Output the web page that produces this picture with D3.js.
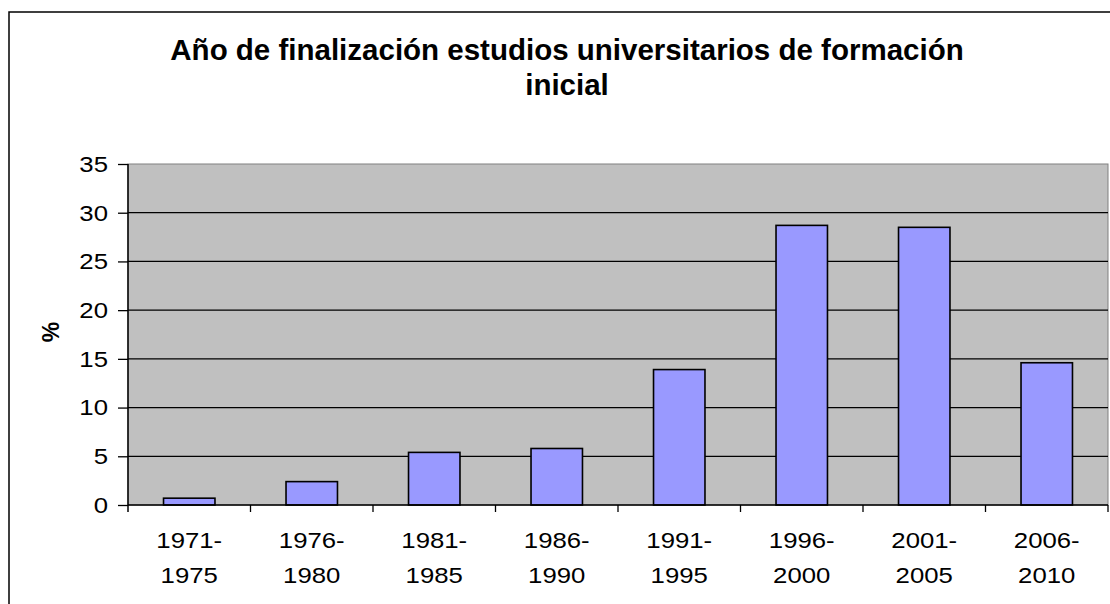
<!DOCTYPE html>
<html>
<head>
<meta charset="utf-8">
<script src="https://cdn.jsdelivr.net/npm/d3@7"></script>
<style>
  body { margin: 0; background: #fff; }
  text { font-family: "Liberation Sans", Arial, sans-serif; fill: #000; }
</style>
</head>
<body>
<div id="viz"></div>
<script>
// data
const periods = ["1971-1975", "1976-1980", "1981-1985", "1986-1990",
  "1991-1995", "1996-2000", "2001-2005", "2006-2010"];
const percents = [0.7, 2.4, 5.4, 5.8, 13.9, 28.7, 28.5, 14.6];
const yTicks = [0, 5, 10, 15, 20, 25, 30, 35];
const titleLines = ["Año de finalización estudios universitarios de formación", "inicial"];

const width = 1110, height = 604;
const plot = { left: 128, right: 1108, top: 164, bottom: 505 };

const svg = d3.select("#viz")
  .append("svg")
  .attr("width", width)
  .attr("height", height);

// chart frame (runs off the right and bottom edge)
svg.append("rect")
  .attr("x", 9)
  .attr("y", 12)
  .attr("width", 1130)
  .attr("height", 640)
  .attr("fill", "#fff")
  .attr("stroke", "#000")
  .attr("stroke-width", 1.5);

const x = d3.scaleBand()
  .domain(periods)
  .range([plot.left, plot.right])
  .paddingInner(0.58)
  .paddingOuter(0.29);
const y = d3.scaleLinear().domain([0, 35]).range([plot.bottom, plot.top]);

// plot area
svg.append("rect")
  .attr("x", plot.left)
  .attr("y", plot.top)
  .attr("width", plot.right - plot.left)
  .attr("height", plot.bottom - plot.top)
  .attr("fill", "#c0c0c0")
  .attr("stroke", "#808080")
  .attr("stroke-width", 1);

// gridlines
svg.append("g")
  .selectAll("line")
  .data(yTicks.filter((d) => d > 0 && d < 35))
  .join("line")
  .attr("x1", plot.left)
  .attr("x2", plot.right)
  .attr("y1", (d) => y(d))
  .attr("y2", (d) => y(d))
  .attr("stroke", "#000")
  .attr("stroke-width", 1.3);

// bars
svg.append("g")
  .selectAll("rect")
  .data(percents)
  .join("rect")
  .attr("x", (d, i) => x(periods[i]))
  .attr("y", (d) => y(d))
  .attr("width", x.bandwidth())
  .attr("height", (d) => y(0) - y(d))
  .attr("fill", "#9999ff")
  .attr("stroke", "#000")
  .attr("stroke-width", 1.6);

// y axis
const yAxis = svg.append("g")
  .attr("transform", `translate(${plot.left},0)`)
  .call(d3.axisLeft(y).tickValues(yTicks).tickSize(10).tickPadding(11));
yAxis.select(".domain").remove();
yAxis.selectAll("line").attr("stroke", "#000").attr("stroke-width", 1.3);
yAxis.selectAll("text")
  .attr("font-size", 23)
  .attr("font-family", "Liberation Sans, Arial, sans-serif")
  .attr("transform", "scale(1.12,1)")
  .attr("x", -20 / 1.12);
svg.append("line")
  .attr("x1", plot.left)
  .attr("x2", plot.left)
  .attr("y1", plot.top)
  .attr("y2", plot.bottom + 7)
  .attr("stroke", "#000")
  .attr("stroke-width", 1.5);

// x axis line + boundary ticks
svg.append("line")
  .attr("x1", plot.left)
  .attr("x2", plot.right)
  .attr("y1", plot.bottom)
  .attr("y2", plot.bottom)
  .attr("stroke", "#000")
  .attr("stroke-width", 1.5);
const step = x.step();
svg.append("g")
  .selectAll("line")
  .data(periods)
  .join("line")
  .attr("x1", (d) => x(d) - x.paddingOuter() * step + step)
  .attr("x2", (d) => x(d) - x.paddingOuter() * step + step)
  .attr("y1", plot.bottom)
  .attr("y2", plot.bottom + 7)
  .attr("stroke", "#000")
  .attr("stroke-width", 1.3);

// x labels on two lines
const xl = svg.append("g")
  .selectAll("text")
  .data(periods)
  .join("text")
  .attr("text-anchor", "middle")
  .attr("font-size", 23)
  .attr("transform", (d) => `translate(${x(d) + x.bandwidth() / 2},0) scale(1.12,1)`);
xl.append("tspan").attr("x", 0).attr("y", 548).text((d) => d.slice(0, 5));
xl.append("tspan").attr("x", 0).attr("y", 583).text((d) => d.slice(5));

// axis title
svg.append("text")
  .attr("transform", "translate(59,332) rotate(-90)")
  .attr("text-anchor", "middle")
  .attr("font-size", 23)
  .attr("font-weight", "bold")
  .text("%");

// chart title
svg.append("g")
  .selectAll("text")
  .data(titleLines)
  .join("text")
  .attr("x", 567)
  .attr("y", (d, i) => 60 + i * 35)
  .attr("text-anchor", "middle")
  .attr("font-size", 29.5)
  .attr("font-weight", "bold")
  .text((d) => d);
</script>
</body>
</html>
